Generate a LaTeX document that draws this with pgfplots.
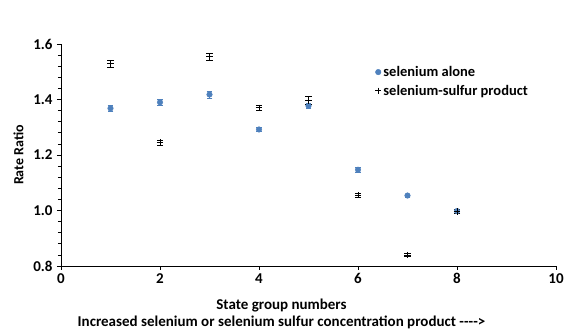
\documentclass[border=0pt]{standalone}
\usepackage{fontspec}
\setmainfont{Carlito}
\usepackage{pgfplots}
\pgfplotsset{compat=1.18}
\definecolor{selblue}{RGB}{79,129,189}
\begin{document}
\begin{tikzpicture}
\begin{axis}[
  scale only axis, width=495pt, height=222pt,
  xmin=0, xmax=10, ymin=0.8, ymax=1.6,
  axis lines=left,
  axis line style={-, line width=0.8pt},
  xtick={0,2,...,10}, ytick={0.8,1.0,1.2,1.4,1.6},
  minor y tick num=4,
  tick align=outside, tick style={black, line width=0.6pt},
  major tick length=4pt, minor tick length=3pt,
  /pgf/number format/assume math mode=true,
  yticklabel style={/pgf/number format/fixed, /pgf/number format/fixed zerofill, /pgf/number format/precision=1, xshift=-1pt},
  tick label style={font=\fontsize{15}{17}\selectfont\bfseries},
  xlabel={State group numbers\\Increased selenium or selenium sulfur concentration product -{}-{}-{}->},
  xlabel style={align=center, font=\fontsize{15}{17}\selectfont\bfseries, xshift=-27pt, yshift=-8pt},
  ylabel={Rate Ratio},
  ylabel style={font=\fontsize{14}{16}\selectfont\bfseries, yshift=3pt},
  legend style={draw=none, fill=none, at={(axis cs:6.28,1.535)}, anchor=north west,
    font=\fontsize{14.5}{17}\selectfont\bfseries, row sep=3pt},
  legend cell align=left,
  legend image code/.code={\draw[#1] plot coordinates {(0pt,0pt)};},
  clip=false,
]
\addplot+[only marks, mark=*, mark size=2.8pt, color=selblue, mark options={fill=selblue, draw=selblue},
  error bars/.cd, y dir=both, y explicit, error bar style={selblue, line width=0.6pt}]
  coordinates {
  (1,1.368) +- (0,0.010)
  (2,1.390) +- (0,0.010)
  (3,1.418) +- (0,0.012)
  (4,1.292) +- (0,0.008)
  (5,1.377) +- (0,0.010)
  (6,1.147) +- (0,0.008)
  (7,1.054) +- (0,0.006)
  (8,0.998) +- (0,0.006)
  };
\addlegendentry{selenium alone}
\addplot+[only marks, mark=+, mark size=3.2pt, color=black, mark options={line width=0.7pt},
  error bars/.cd, y dir=both, y explicit, error bar style={black, line width=0.7pt}]
  coordinates {
  (1,1.530) +- (0,0.012)
  (2,1.245) +- (0,0.010)
  (3,1.555) +- (0,0.012)
  (4,1.370) +- (0,0.010)
  (5,1.397) +- (0,0.014)
  (6,1.055) +- (0,0.008)
  (7,0.840) +- (0,0.006)
  (8,0.997) +- (0,0.008)
  };
\addlegendentry{selenium-sulfur product}
\coordinate (sw) at (rel axis cs:0,0);
\coordinate (ne) at (rel axis cs:1,1);
\end{axis}
\pgfresetboundingbox
\path[use as bounding box] ([xshift=-61pt,yshift=-66pt]sw) rectangle ([xshift=10pt,yshift=44pt]ne);
\end{tikzpicture}
\end{document}
